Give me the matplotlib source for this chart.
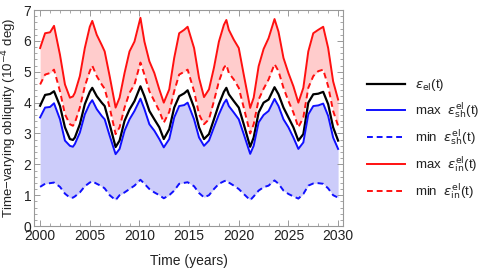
import matplotlib
matplotlib.use('Agg')
import matplotlib.pyplot as plt
import numpy as np

plt.rcParams['font.family'] = ['Liberation Sans', 'DejaVu Sans']
plt.rcParams['mathtext.fontset'] = 'dejavusans'

# time samples (years)
t = [2000, 2000.5, 2001, 2001.4, 2002, 2002.5, 2003, 2003.3, 2003.5, 2004, 2004.5,
     2005, 2005.25, 2005.7, 2006.2, 2006.5, 2007, 2007.6, 2008, 2008.5, 2009, 2009.5,
     2010.1, 2010.5, 2011, 2011.5, 2012, 2012.45, 2013, 2013.5, 2014, 2014.5, 2014.85,
     2015.5, 2016, 2016.5, 2017, 2017.5, 2018, 2018.5, 2018.75, 2019, 2019.5, 2020,
     2020.5, 2021.15, 2021.5, 2022, 2022.5, 2023, 2023.6, 2024, 2024.5, 2025, 2025.5,
     2026, 2026.5, 2027, 2027.5, 2028, 2028.5, 2029, 2029.5, 2030]

# obliquity, 1e-4 deg
eps_el = [3.9, 4.25, 4.28, 4.37, 3.89, 3.2, 2.82, 2.79, 2.87, 3.3, 3.95,
          4.35, 4.48, 4.21, 4.0, 3.89, 3.3, 2.56, 2.77, 3.41, 3.78, 4.05,
          4.53, 4.21, 3.73, 3.46, 3.2, 2.82, 3.14, 3.84, 4.21, 4.3, 4.4,
          3.84, 3.2, 2.82, 2.98, 3.46, 3.95, 4.35, 4.48, 4.27, 4.05, 3.84,
          3.3, 2.57, 2.87, 3.68, 4.0, 4.1, 4.5, 4.27, 3.84, 3.52, 3.2,
          2.77, 2.98, 4.0, 4.27, 4.29, 4.35, 3.95, 3.2, 2.77]
sh_max = [3.52, 3.84, 3.86, 3.98, 3.46, 2.77, 2.6, 2.57, 2.66, 3.03, 3.62,
          3.97, 4.08, 3.79, 3.57, 3.46, 2.93, 2.33, 2.5, 3.09, 3.46, 3.73,
          4.13, 3.79, 3.3, 3.09, 2.82, 2.55, 2.82, 3.52, 3.89, 3.92, 4.0,
          3.46, 2.87, 2.6, 2.77, 3.2, 3.62, 3.98, 4.1, 3.89, 3.68, 3.46,
          2.98, 2.34, 2.6, 3.36, 3.6, 3.73, 4.12, 3.89, 3.46, 3.2, 2.87,
          2.5, 2.71, 3.62, 3.89, 3.91, 3.97, 3.57, 2.87, 2.5]
sh_min = [1.27, 1.37, 1.39, 1.41, 1.27, 1.05, 0.92, 0.92, 0.96, 1.09, 1.29,
          1.41, 1.45, 1.37, 1.29, 1.22, 1.0, 0.84, 1.0, 1.09, 1.2, 1.31,
          1.5, 1.37, 1.2, 1.09, 1.0, 0.9, 1.0, 1.15, 1.37, 1.4, 1.42,
          1.29, 1.07, 0.93, 1.0, 1.2, 1.37, 1.45, 1.48, 1.41, 1.31, 1.2,
          1.04, 0.84, 0.96, 1.15, 1.26, 1.31, 1.48, 1.37, 1.15, 1.04, 0.96,
          0.89, 1.04, 1.31, 1.38, 1.39, 1.37, 1.22, 1.0, 0.92]
in_max = [5.77, 6.25, 6.28, 6.49, 5.55, 4.59, 4.16, 4.2, 4.32, 4.86, 5.77,
          6.46, 6.65, 6.2, 5.87, 5.66, 4.86, 3.84, 4.16, 4.96, 5.66, 5.98,
          6.75, 5.98, 5.34, 4.96, 4.43, 4.0, 4.43, 5.45, 6.25, 6.36, 6.46,
          5.77, 4.8, 4.18, 4.43, 5.13, 5.98, 6.52, 6.68, 6.36, 6.04, 5.77,
          4.91, 3.83, 4.16, 5.18, 5.74, 6.09, 6.71, 6.3, 5.45, 4.96, 4.53,
          4.0, 4.48, 5.66, 6.25, 6.36, 6.46, 5.77, 4.69, 4.1]
in_min = [4.59, 4.91, 4.96, 5.07, 4.37, 3.62, 3.3, 3.25, 3.35, 3.84, 4.53,
          5.02, 5.2, 4.86, 4.59, 4.45, 3.84, 2.98, 3.2, 3.84, 4.32, 4.59,
          5.3, 4.91, 4.37, 4.05, 3.73, 3.35, 3.7, 4.37, 4.91, 5.0, 5.07,
          4.37, 3.62, 3.3, 3.46, 4.05, 4.69, 5.13, 5.23, 4.96, 4.75, 4.48,
          3.84, 3.0, 3.3, 4.1, 4.45, 4.75, 5.25, 5.02, 4.48, 4.05, 3.68,
          3.2, 3.52, 4.48, 4.86, 5.02, 5.07, 4.53, 3.73, 3.25]

fig = plt.figure(figsize=(4.88, 2.73), dpi=100)
ax = fig.add_axes([0.070, 0.172, 0.633, 0.791])

ax.fill_between(t, sh_min, sh_max, color='#ccccfa', lw=0, zorder=1)
ax.fill_between(t, in_min, in_max, color='#ffcccc', lw=0, zorder=1)

ax.plot(t, eps_el, color='black', lw=1.6, label=r'$\epsilon_{\rm el}$(t)', zorder=3)
ax.plot(t, sh_max, color='#1010ff', lw=1.4, label=r'max  $\epsilon^{\rm el}_{\rm sh}$(t)', zorder=3)
ax.plot(t, sh_min, color='#1010ff', lw=1.4, ls=(0, (3, 2)), label=r'min  $\epsilon^{\rm el}_{\rm sh}$(t)', zorder=3)
ax.plot(t, in_max, color='#ff1010', lw=1.4, label=r'max  $\epsilon^{\rm el}_{\rm in}$(t)', zorder=3)
ax.plot(t, in_min, color='#ff1010', lw=1.4, ls=(0, (3, 2)), label=r'min  $\epsilon^{\rm el}_{\rm in}$(t)', zorder=3)

ax.set_xlim([1999.4, 2030.5])
ax.set_ylim([0, 7])
ax.set_xticks([2000, 2005, 2010, 2015, 2020, 2025, 2030])
ax.set_xticks(np.arange(2000, 2031, 1), minor=True)
ax.set_yticks([0, 1, 2, 3, 4, 5, 6, 7])
ax.set_yticks(np.arange(0, 7.01, 0.2), minor=True)
ax.tick_params(which='both', direction='in', top=True, right=True, color='#999999',
               labelsize=10, labelcolor='#222222')
ax.tick_params(which='major', length=4, width=0.7, pad=2)
ax.tick_params(which='minor', length=2, width=0.6)
for s in ax.spines.values():
    s.set_color('#999999')
    s.set_linewidth(0.8)

ax.set_xlabel('Time (years)', fontsize=10, color='#222222', labelpad=8)
ax.set_ylabel('Time\u2212varying obliquity (10$^{-4}$ deg)', fontsize=9.5, color='#222222')
ax.yaxis.set_label_coords(-0.048, 0.5)

leg = fig.legend(loc='center left', bbox_to_anchor=(0.728, 0.49), frameon=False,
                 fontsize=9.5, handlelength=2.9, handletextpad=0.7, labelspacing=0.55)
for txt in leg.get_texts():
    txt.set_color('#222222')

plt.savefig('out.png', dpi=100)
